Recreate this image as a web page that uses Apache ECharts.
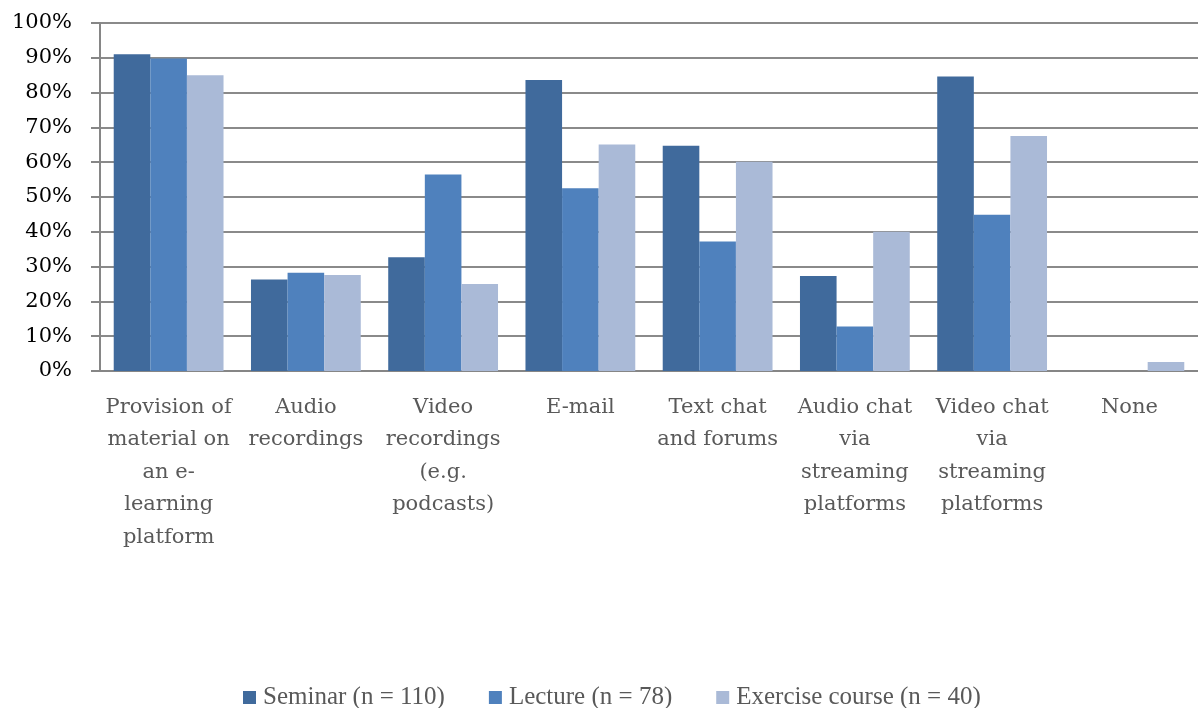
<!DOCTYPE html>
<html>
<head>
<meta charset="utf-8">
<script src="https://cdn.jsdelivr.net/npm/echarts@6/dist/echarts.min.js"></script>
<style>
html,body{margin:0;padding:0;background:#fff;}
#chart{width:1198px;height:708px;}
</style>
</head>
<body>
<div id="chart"></div>
<script>
var categories = [
  "Provision of\nmaterial on\nan e-\nlearning\nplatform",
  "Audio\nrecordings",
  "Video\nrecordings\n(e.g.\npodcasts)",
  "E-mail",
  "Text chat\nand forums",
  "Audio chat\nvia\nstreaming\nplatforms",
  "Video chat\nvia\nstreaming\nplatforms",
  "None"
];
var seriesNames = ["Seminar (n = 110)", "Lecture (n = 78)", "Exercise course (n = 40)"];
var seminar = [91.0, 26.3, 32.7, 83.6, 64.7, 27.3, 84.6, 0];
var lecture = [89.8, 28.2, 56.5, 52.5, 37.2, 12.8, 44.9, 0];
var exercise = [85.0, 27.6, 25.0, 65.1, 60.1, 40.0, 67.5, 2.6];
var colors = ["#406a9c", "#4f81bd", "#aabad7"];

var chart = echarts.init(document.getElementById('chart'), null, {renderer: 'canvas'});
var dataSets = [seminar, lecture, exercise];
var series = dataSets.map(function (d, i) {
  return {
    name: seriesNames[i],
    type: 'bar',
    data: d,
    barGap: '0%',
    barCategoryGap: '20%',
    itemStyle: {color: colors[i]},
    animation: false
  };
});
chart.setOption({
  animation: false,
  grid: {left: 100, right: 0, top: 23, bottom: 337, containLabel: false},
  legend: {
    data: seriesNames,
    left: 238,
    top: 680,
    itemWidth: 13,
    itemHeight: 13,
    itemGap: 44,
    icon: 'rect',
    textStyle: {fontFamily: 'Liberation Serif', fontSize: 25, color: '#595959', padding: [0, 0, 0, 2]}
  },
  xAxis: {
    type: 'category',
    data: categories,
    axisLine: {show: true, lineStyle: {color: '#868686', width: 2}},
    axisTick: {show: false},
    axisLabel: {
      interval: 0,
      margin: 20,
      fontFamily: 'DejaVu Serif',
      fontSize: 21,
      lineHeight: 32.5,
      color: '#595959',
      align: 'center'
    }
  },
  yAxis: {
    type: 'value',
    min: 0,
    max: 100,
    interval: 10,
    axisLine: {show: true, lineStyle: {color: '#868686', width: 2}},
    axisTick: {show: true, length: 9, lineStyle: {color: '#868686', width: 2}},
    splitLine: {show: true, lineStyle: {color: '#8a8a8a', width: 2}},
    axisLabel: {
      formatter: '{value}%',
      margin: 28,
      fontFamily: 'DejaVu Serif',
      fontSize: 21,
      color: '#000'
    }
  },
  series: series
});
</script>
</body>
</html>
